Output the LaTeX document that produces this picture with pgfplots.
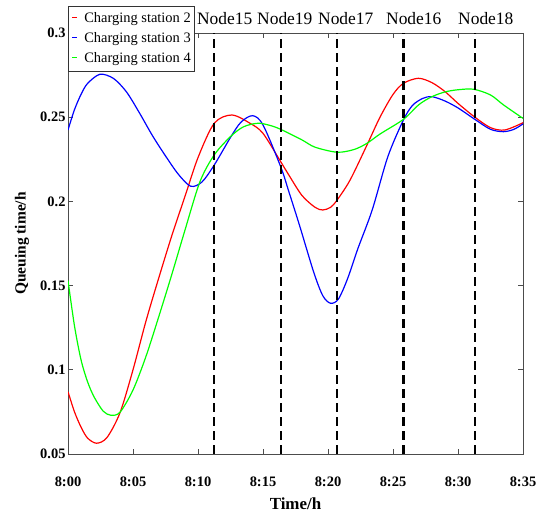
\documentclass[border=0pt]{standalone}
\usepackage{fontspec}
\setmainfont{Liberation Serif}
\usepackage{pgfplots}
\pgfplotsset{compat=1.18}
\newcommand{\legline}[1]{\textcolor{#1}{\rule[0.3em]{5bp}{1.5bp}}\hspace{7bp}}
\begin{document}
\begin{tikzpicture}
\useasboundingbox (-68bp,-58bp) rectangle (485bp,454bp);
\begin{axis}[
  at={(0,0)}, anchor=south west,
  scale only axis, width=455bp, height=421bp,
  clip mode=individual,
  xmin=0, xmax=35, ymin=0.05, ymax=0.3,
  xtick={0,5,...,35},
  xticklabels={8:00,8:05,8:10,8:15,8:20,8:25,8:30,8:35},
  ytick={0.05,0.1,0.15,0.2,0.25,0.3},
  yticklabels={0.05,0.1,0.15,0.2,0.25,0.3},
  tick align=inside, major tick length=5bp,
  axis line style={black!70, line width=0.9bp},
  every tick/.style={black!70, line width=0.8bp},
  /pgf/number format/assume math mode=true,
  ticklabel style={font=\fontsize{14.5}{16}\selectfont\bfseries},
  x tick label style={yshift=-19bp},
  y tick label style={xshift=1bp},
  xlabel={Time/h},
  ylabel={Queuing time/h},
  xlabel style={font=\fontsize{17}{19}\selectfont\bfseries, at={(axis description cs:0.5,-0.117)}, anchor=center},
  ylabel style={font=\fontsize{15.5}{17}\selectfont\bfseries, at={(axis description cs:-0.101,0.5)}, anchor=center},
  every axis plot/.append style={line width=1.2bp},
]
\addplot[color=red, smooth, tension=0.5] coordinates {
(0,0.087) (0.5,0.075) (1,0.066) (1.5,0.0595) (2.2,0.0564) (3,0.0598) (4,0.0745) (5,0.100) (6,0.129)
(7,0.155) (8,0.180) (9,0.203) (10,0.226) (11.25,0.2464) (12.6,0.2513)
(14,0.2464) (15,0.2404) (16.36,0.2236) (17,0.2155) (18,0.2035) (19,0.1965) (19.6,0.1949)
(20.2,0.1965) (20.7,0.2008) (21.7,0.2127) (23,0.2335) (24,0.250) (25,0.2635) (25.8,0.2701)
(26.95,0.2731) (28,0.2705) (29,0.2652) (30,0.2582) (31.3,0.2500) (32.5,0.2438)
(33.6,0.2424) (35,0.2467)};
\addplot[color=blue, smooth, tension=0.5] coordinates {
(0,0.2424) (0.5,0.2545) (1,0.2635) (1.5,0.2700) (2.46,0.2755) (3.5,0.2730) (4.5,0.2650)
(5.5,0.2525) (6.5,0.2390) (7.5,0.2270) (8.5,0.2160) (9.44,0.2090) (10.3,0.2115)
(11.25,0.2216) (12.5,0.2380) (13.3,0.2470) (14.2,0.2509) (15,0.2454) (16.36,0.2206)
(17,0.2055) (17.8,0.1860) (18.9,0.1580) (19.6,0.1440) (20.2,0.1395) (20.8,0.1420)
(21.5,0.1540) (22.3,0.1720) (23.4,0.1949) (24.6,0.2265)
(25.8,0.2483) (26.5,0.2570) (27.3,0.2612) (28,0.2622) (29,0.2596) (30,0.2555) (31.3,0.2487)
(32.5,0.2428) (33.5,0.2414) (34.3,0.2428) (35,0.2460)};
\addplot[color=green, smooth, tension=0.5] coordinates {
(0,0.153) (0.5,0.126) (1,0.106) (1.5,0.093) (2,0.084) (2.7,0.0755) (3.3,0.073) (4,0.0748) (5,0.088) (6,0.108)
(7,0.132) (8,0.157) (9,0.183) (10.15,0.2117) (11.25,0.2276)
(12.5,0.2385) (13.5,0.2443) (14.6,0.2464) (15.5,0.2452) (16.36,0.2428) (18,0.2365) (19,0.2322) (20.7,0.2292)
(22,0.2308) (23,0.2345) (24,0.2400) (25.8,0.2487) (27,0.2575) (28,0.2622)
(29,0.2650) (30,0.2663) (31.2,0.2666) (32.5,0.2632) (33.5,0.2573) (35,0.2493)};
\addplot[black, line width=2.2bp, dash pattern=on 9bp off 5bp] coordinates {(11.25,0.05) (11.25,0.3)};
\addplot[black, line width=2.2bp, dash pattern=on 9bp off 5bp] coordinates {(16.36,0.05) (16.36,0.3)};
\addplot[black, line width=2.2bp, dash pattern=on 9bp off 5bp] coordinates {(20.72,0.05) (20.72,0.3)};
\addplot[black, line width=2.2bp, dash pattern=on 9bp off 5bp] coordinates {(25.8,0.05) (25.8,0.3)};
\addplot[black, line width=2.2bp, dash pattern=on 9bp off 5bp] coordinates {(31.3,0.05) (31.3,0.3)};
\node[anchor=base west, inner sep=0pt, font=\fontsize{17.5}{18}\selectfont] at (axis cs:9.92,0.3) [yshift=8bp] {Node15};
\node[anchor=base west, inner sep=0pt, font=\fontsize{17.5}{18}\selectfont] at (axis cs:14.54,0.3) [yshift=8bp] {Node19};
\node[anchor=base west, inner sep=0pt, font=\fontsize{17.5}{18}\selectfont] at (axis cs:19.23,0.3) [yshift=8bp] {Node17};
\node[anchor=base west, inner sep=0pt, font=\fontsize{17.5}{18}\selectfont] at (axis cs:24.46,0.3) [yshift=8bp] {Node16};
\node[anchor=base west, inner sep=0pt, font=\fontsize{17.5}{18}\selectfont] at (axis cs:30.0,0.3) [yshift=8bp] {Node18};
\node[anchor=north west, draw=black!80, line width=0.6bp, fill=white, inner xsep=4bp, inner ysep=2.5bp,
  font=\fontsize{14.5}{20}\selectfont] at (rel axis cs:0,1) [yshift=27bp]
  {\begin{tabular}{@{}l@{}}
   \legline{red}Charging station 2\\
   \legline{blue}Charging station 3\\
   \legline{green}Charging station 4
   \end{tabular}};
\end{axis}
\end{tikzpicture}
\end{document}
